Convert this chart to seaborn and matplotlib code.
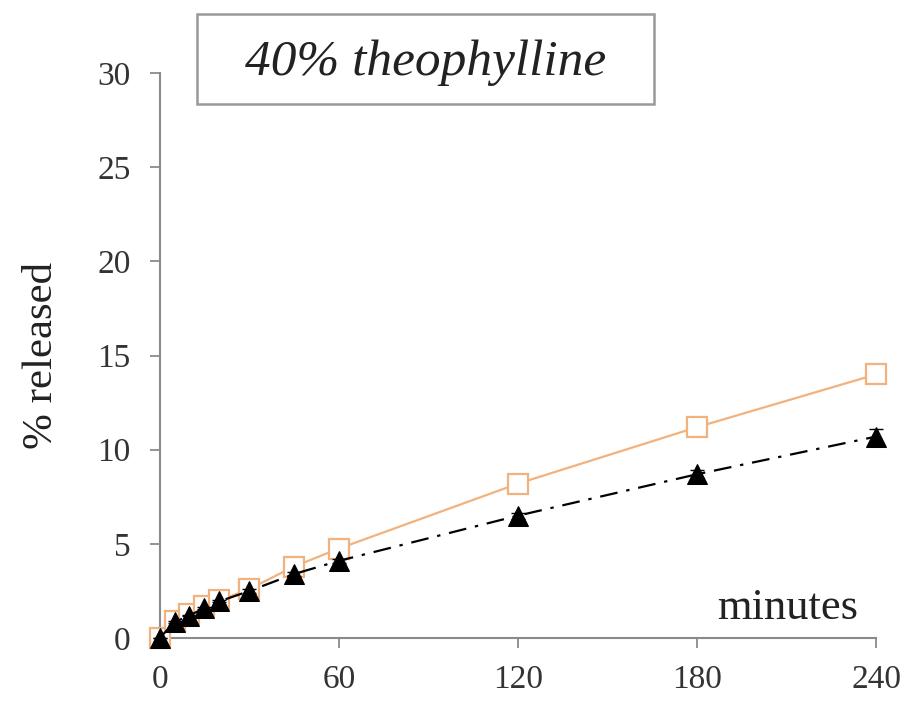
import seaborn as sns
import matplotlib.pyplot as plt
import matplotlib.patches as mpatches
import pandas as pd

# data
minutes = [0, 5, 10, 15, 20, 30, 45, 60, 120, 180, 240]
open_sq = [0, 0.9, 1.3, 1.7, 2.0, 2.6, 3.8, 4.75, 8.2, 11.2, 14.0]
open_sq_err = [0, 0.05, 0.05, 0.05, 0.05, 0.1, 0.1, 0.1, 0.15, 0.2, 0.35]
filled_tri = [0, 0.85, 1.2, 1.6, 1.95, 2.5, 3.4, 4.1, 6.5, 8.7, 10.7]
filled_tri_err = [0, 0.05, 0.05, 0.05, 0.05, 0.1, 0.1, 0.1, 0.15, 0.2, 0.4]

df = pd.DataFrame({"t": minutes, "sq": open_sq, "tri": filled_tri})

sns.set_style("white")
plt.rcParams["font.family"] = ["Liberation Serif", "DejaVu Serif"]

fig = plt.figure(figsize=(9.07, 7.02), dpi=100)
ax = fig.add_axes([0.176, 0.091, 0.79, 0.805])

orange = "#F2B27E"

sns.lineplot(data=df, x="t", y="sq", ax=ax, color=orange, linewidth=1.6,
             marker="s", markersize=14, markerfacecolor="white",
             markeredgecolor=orange, markeredgewidth=1.6, clip_on=False, zorder=3)
ax.errorbar(minutes, open_sq, yerr=open_sq_err, fmt="none", ecolor=orange,
            elinewidth=1.2, capsize=5, zorder=2, clip_on=False)

sns.lineplot(data=df, x="t", y="tri", ax=ax, color="black", linewidth=1.6,
             linestyle=(0, (8, 4, 1.5, 4)), marker="^", markersize=15,
             markerfacecolor="black", markeredgecolor="black",
             clip_on=False, zorder=4)
ax.errorbar(minutes, filled_tri, yerr=filled_tri_err, fmt="none", ecolor="black",
            elinewidth=1.2, capsize=5, zorder=4, clip_on=False)

ax.set_xlim(0, 240)
ax.set_ylim(0, 30)
ax.set_xticks([0, 60, 120, 180, 240])
ax.set_yticks([0, 5, 10, 15, 20, 25, 30])
ax.set_xlabel("")
ax.set_ylabel("% released", fontsize=31, labelpad=26, color="#222222")

for side in ["top", "right"]:
    ax.spines[side].set_visible(False)
for side in ["left", "bottom"]:
    ax.spines[side].set_color("#8a8a8a")
    ax.spines[side].set_linewidth(1.5)

ax.tick_params(axis="both", which="major", labelsize=24, colors="#8a8a8a",
               direction="out", length=7, width=1.3, labelcolor="#333333",
               pad=6, bottom=True, left=True)
ax.tick_params(axis="x", pad=12)
ax.tick_params(axis="y", pad=14)

ax.text(0.975, 0.018, "minutes", transform=ax.transAxes, fontsize=32,
        ha="right", va="bottom", color="#222222")

# title box
fig.patches.append(mpatches.Rectangle((0.217, 0.852), 0.504, 0.128,
                                      transform=fig.transFigure, facecolor="white",
                                      edgecolor="#999999", linewidth=1.8))
fig.text(0.469, 0.910, "40% theophylline", fontsize=37, style="italic",
         ha="center", va="center", color="#222222")

fig.savefig("out.png", dpi=100)
